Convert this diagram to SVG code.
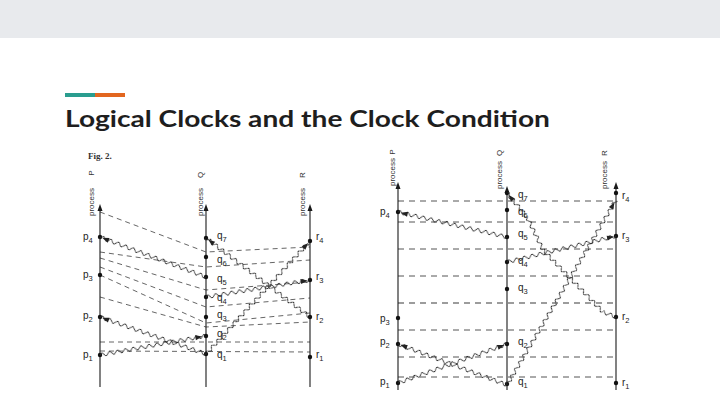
<svg xmlns="http://www.w3.org/2000/svg" width="720" height="405" viewBox="0 0 720 405">
<style>
.ax{stroke:#1a1a1a;stroke-width:1.1;fill:none}
.ah{fill:#1a1a1a}
.dot{fill:#111}
.lb{font-family:"Liberation Sans",Arial,sans-serif;font-size:10px;fill:#222}
.sb{font-size:7.5px}
.pr{font-family:"Liberation Sans",Arial,sans-serif;font-size:8px;fill:#333}
.dl{stroke:#555;stroke-width:0.9;fill:none;stroke-dasharray:5 4}
.dr{stroke:#555;stroke-width:1;fill:none;stroke-dasharray:6 5}
.msg path{fill:#222}
</style>
<defs>
<pattern id="wv" patternUnits="userSpaceOnUse" x="0" y="-4" width="8" height="8">
<path d="M-4,4 q2,3.5 4,0 t4,0 t4,0 t4,0" fill="none" stroke="#2a2a2a" stroke-width="1"/>
</pattern>
</defs>
<rect width="720" height="405" fill="#fff"/>
<rect width="720" height="38" fill="#e8eaed"/>
<rect x="65" y="93" width="30" height="4" fill="#2a9d8f"/>
<rect x="95" y="93" width="30" height="4" fill="#e2661f"/>
<text x="65" y="127" font-family="Lato,'Open Sans',sans-serif" font-weight="700" font-size="22" fill="#1e1e1e" textLength="485" lengthAdjust="spacingAndGlyphs">Logical Clocks and the Clock Condition</text>

<text x="88" y="159" font-family="'Liberation Serif',serif" font-weight="700" font-size="9" fill="#333">Fig. 2.</text>

<!-- left figure dashed tick lines -->
<g id="fig1-ticks">
<polyline class="dl" points="100,212 206,252 310,247"/>
<polyline class="dl" points="100,252 206,267 310,260"/>
<polyline class="dl" points="100,258 206,290 310,282"/>
<polyline class="dl" points="100,267 206,307 310,298"/>
<polyline class="dl" points="100,275 206,323 310,313"/>
<polyline class="dl" points="100,297 206,327 310,322"/>
<polyline class="dl" points="100,342 310,342"/>
<polyline class="dl" points="100,351 310,352"/>
</g>

<!-- right figure dashed tick lines -->
<g id="fig2-ticks">
<line class="dr" x1="398" y1="201" x2="616" y2="201"/>
<line class="dr" x1="398" y1="222" x2="616" y2="222"/>
<line class="dr" x1="398" y1="249" x2="616" y2="249"/>
<line class="dr" x1="398" y1="276" x2="616" y2="276"/>
<line class="dr" x1="398" y1="303" x2="616" y2="303" style="stroke:#3a3a3a;stroke-width:1.15"/>
<line class="dr" x1="398" y1="330" x2="616" y2="330"/>
<line class="dr" x1="398" y1="357" x2="616" y2="357"/>
<line class="dr" x1="398" y1="377" x2="616" y2="377"/>
</g>

<!-- processes, left figure -->
<g id="fig1-P">
<line class="ax" x1="100" y1="387" x2="100" y2="207"/>
<path class="ah" d="M100,204 l-2.5,7 h5 z"/>
<text class="pr" transform="translate(94,202) rotate(-90)" text-anchor="middle" font-size="8.5">process</text>
<text class="pr" transform="translate(94,173) rotate(-90)" text-anchor="middle">P</text>
<circle class="dot" cx="100" cy="237" r="2.2"/><circle class="dot" cx="100" cy="275" r="2.2"/>
<circle class="dot" cx="100" cy="317" r="2.2"/><circle class="dot" cx="100" cy="355" r="2.2"/>
<text class="lb" x="83" y="240">p<tspan class="sb" dy="3">4</tspan></text>
<text class="lb" x="83" y="278">p<tspan class="sb" dy="3">3</tspan></text>
<text class="lb" x="83" y="319">p<tspan class="sb" dy="3">2</tspan></text>
<text class="lb" x="83" y="358">p<tspan class="sb" dy="3">1</tspan></text>
</g>
<g id="fig1-Q">
<line class="ax" x1="206" y1="387" x2="206" y2="207"/>
<path class="ah" d="M206,204 l-2.5,7 h5 z"/>
<text class="pr" transform="translate(203,202) rotate(-90)" text-anchor="middle" font-size="8.5">process</text>
<text class="pr" transform="translate(203,175) rotate(-90)" text-anchor="middle">Q</text>
<circle class="dot" cx="206" cy="238" r="2.2"/><circle class="dot" cx="206" cy="257" r="2.2"/>
<circle class="dot" cx="206" cy="277" r="2.2"/><circle class="dot" cx="206" cy="297" r="2.2"/>
<circle class="dot" cx="206" cy="317" r="2.2"/><circle class="dot" cx="206" cy="336" r="2.2"/>
<circle class="dot" cx="206" cy="354" r="2.2"/>
<text class="lb" x="217" y="239">q<tspan class="sb" dy="3">7</tspan></text>
<text class="lb" x="217" y="263">q<tspan class="sb" dy="3">6</tspan></text>
<text class="lb" x="217" y="282">q<tspan class="sb" dy="3">5</tspan></text>
<text class="lb" x="217" y="301">q<tspan class="sb" dy="3">4</tspan></text>
<text class="lb" x="217" y="318">q<tspan class="sb" dy="3">3</tspan></text>
<text class="lb" x="217" y="337">q<tspan class="sb" dy="3">2</tspan></text>
<text class="lb" x="217" y="358">q<tspan class="sb" dy="3">1</tspan></text>
</g>
<g id="fig1-R">
<line class="ax" x1="310" y1="387" x2="310" y2="207"/>
<path class="ah" d="M310,204 l-2.5,7 h5 z"/>
<text class="pr" transform="translate(305,202) rotate(-90)" text-anchor="middle" font-size="8.5">process</text>
<text class="pr" transform="translate(305,175) rotate(-90)" text-anchor="middle">R</text>
<circle class="dot" cx="310" cy="241" r="2.2"/><circle class="dot" cx="310" cy="280" r="2.2"/>
<circle class="dot" cx="310" cy="317" r="2.2"/><circle class="dot" cx="310" cy="357" r="2.2"/>
<text class="lb" x="316" y="240">r<tspan class="sb" dy="3">4</tspan></text>
<text class="lb" x="316" y="280">r<tspan class="sb" dy="3">3</tspan></text>
<text class="lb" x="316" y="320">r<tspan class="sb" dy="3">2</tspan></text>
<text class="lb" x="316" y="358">r<tspan class="sb" dy="3">1</tspan></text>
</g>

<!-- processes, right figure -->
<g id="fig2-P">
<line class="ax" x1="398" y1="390" x2="398" y2="185"/>
<path class="ah" d="M398,182 l-2.5,7 h5 z"/>
<text class="pr" transform="translate(395,172) rotate(-90)" text-anchor="middle">process</text>
<text class="pr" transform="translate(395,152) rotate(-90)" text-anchor="middle">P</text>
<circle class="dot" cx="398" cy="212" r="2.2"/><circle class="dot" cx="398" cy="318" r="2.2"/>
<circle class="dot" cx="398" cy="344" r="2.2"/><circle class="dot" cx="398" cy="383" r="2.2"/>
<text class="lb" x="380" y="215">p<tspan class="sb" dy="3">4</tspan></text>
<text class="lb" x="380" y="322">p<tspan class="sb" dy="3">3</tspan></text>
<text class="lb" x="380" y="345">p<tspan class="sb" dy="3">2</tspan></text>
<text class="lb" x="380" y="385">p<tspan class="sb" dy="3">1</tspan></text>
</g>
<g id="fig2-Q">
<line class="ax" x1="507" y1="390" x2="507" y2="189"/>
<path class="ah" d="M507,186 l-2.5,7 h5 z"/>
<text class="pr" transform="translate(502,175) rotate(-90)" text-anchor="middle">process</text>
<text class="pr" transform="translate(502,153) rotate(-90)" text-anchor="middle">Q</text>
<circle class="dot" cx="507" cy="193" r="2.2"/><circle class="dot" cx="507" cy="210" r="2.2"/>
<circle class="dot" cx="507" cy="237" r="2.2"/><circle class="dot" cx="507" cy="262" r="2.2"/>
<circle class="dot" cx="507" cy="289" r="2.2"/><circle class="dot" cx="507" cy="344" r="2.2"/>
<circle class="dot" cx="507" cy="384" r="2.2"/>
<text class="lb" x="518" y="198">q<tspan class="sb" dy="3">7</tspan></text>
<text class="lb" x="518" y="215">q<tspan class="sb" dy="3">6</tspan></text>
<text class="lb" x="518" y="237">q<tspan class="sb" dy="3">5</tspan></text>
<text class="lb" x="518" y="264">q<tspan class="sb" dy="3">4</tspan></text>
<text class="lb" x="518" y="291">q<tspan class="sb" dy="3">3</tspan></text>
<text class="lb" x="518" y="345">q<tspan class="sb" dy="3">2</tspan></text>
<text class="lb" x="518" y="385">q<tspan class="sb" dy="3">1</tspan></text>
</g>
<g id="fig2-R">
<line class="ax" x1="616" y1="390" x2="616" y2="185"/>
<path class="ah" d="M616,182 l-2.5,7 h5 z"/>
<text class="pr" transform="translate(607,175) rotate(-90)" text-anchor="middle">process</text>
<text class="pr" transform="translate(607,153) rotate(-90)" text-anchor="middle">R</text>
<circle class="dot" cx="616" cy="193" r="2.2"/><circle class="dot" cx="616" cy="236" r="2.2"/>
<circle class="dot" cx="616" cy="317" r="2.2"/><circle class="dot" cx="616" cy="383" r="2.2"/>
<text class="lb" x="622" y="199">r<tspan class="sb" dy="3">4</tspan></text>
<text class="lb" x="622" y="239">r<tspan class="sb" dy="3">3</tspan></text>
<text class="lb" x="622" y="320">r<tspan class="sb" dy="3">2</tspan></text>
<text class="lb" x="622" y="386">r<tspan class="sb" dy="3">1</tspan></text>
</g>

<!-- messages (wavy connectors) -->
<g id="messages">
<g class="msg" transform="translate(100,355) rotate(-10.26)"><rect x="0" y="-4" width="106.7" height="8" fill="url(#wv)"/><path d="M104,0 l-7,-2.5 v5 z"/></g>
<g class="msg" transform="translate(206,354) rotate(-160.76)"><rect x="0" y="-4" width="112.3" height="8" fill="url(#wv)"/><path d="M110,0 l-7,-2.5 v5 z"/></g>
<g class="msg" transform="translate(206,277) rotate(-159.33)"><rect x="0" y="-4" width="113.3" height="8" fill="url(#wv)"/><path d="M111,0 l-7,-2.5 v5 z"/></g>
<g class="msg" transform="translate(206,297) rotate(-9.28)"><rect x="0" y="-4" width="105.4" height="8" fill="url(#wv)"/><path d="M103,0 l-7,-2.5 v5 z"/></g>
<g class="msg" transform="translate(310,317) rotate(-142.78)"><rect x="0" y="-4" width="130.6" height="8" fill="url(#wv)"/><path d="M128,0 l-7,-2.5 v5 z"/></g>
<g class="msg" transform="translate(206,354) rotate(-47.37)"><rect x="0" y="-4" width="153.6" height="8" fill="url(#wv)"/><path d="M151,0 l-7,-2.5 v5 z"/></g>

<g class="msg" transform="translate(398,383) rotate(-19.69)"><rect x="0" y="-4" width="115.8" height="8" fill="url(#wv)"/><path d="M113,0 l-7,-2.5 v5 z"/></g>
<g class="msg" transform="translate(507,385) rotate(-159.39)"><rect x="0" y="-4" width="116.5" height="8" fill="url(#wv)"/><path d="M114,0 l-7,-2.5 v5 z"/></g>
<g class="msg" transform="translate(507,237) rotate(-167.08)"><rect x="0" y="-4" width="111.8" height="8" fill="url(#wv)"/><path d="M109,0 l-7,-2.5 v5 z"/></g>
<g class="msg" transform="translate(507,262) rotate(-13.42)"><rect x="0" y="-4" width="112.1" height="8" fill="url(#wv)"/><path d="M110,0 l-7,-2.5 v5 z"/></g>
<g class="msg" transform="translate(507,385) rotate(-59.5)"><rect x="0" y="-4" width="214.7" height="8" fill="url(#wv)"/><path d="M212,0 l-7,-2.5 v5 z"/></g>
<g class="msg">
<g transform="translate(616,317) rotate(-158.96)"><rect x="0" y="-4" width="13.9" height="8" fill="url(#wv)"/></g>
<g transform="translate(603,312) rotate(-134.06)"><rect x="0" y="-4" width="86.3" height="8" fill="url(#wv)"/></g>
<g transform="translate(543,250) rotate(-115.87)"><rect x="0" y="-4" width="36.7" height="8" fill="url(#wv)"/></g>
<g transform="translate(527,217) rotate(-129.81)"><rect x="0" y="-4" width="31.2" height="8" fill="url(#wv)"/><path d="M29,0 l-7,-2.5 v5 z"/></g>
</g>
</g>
</svg>
